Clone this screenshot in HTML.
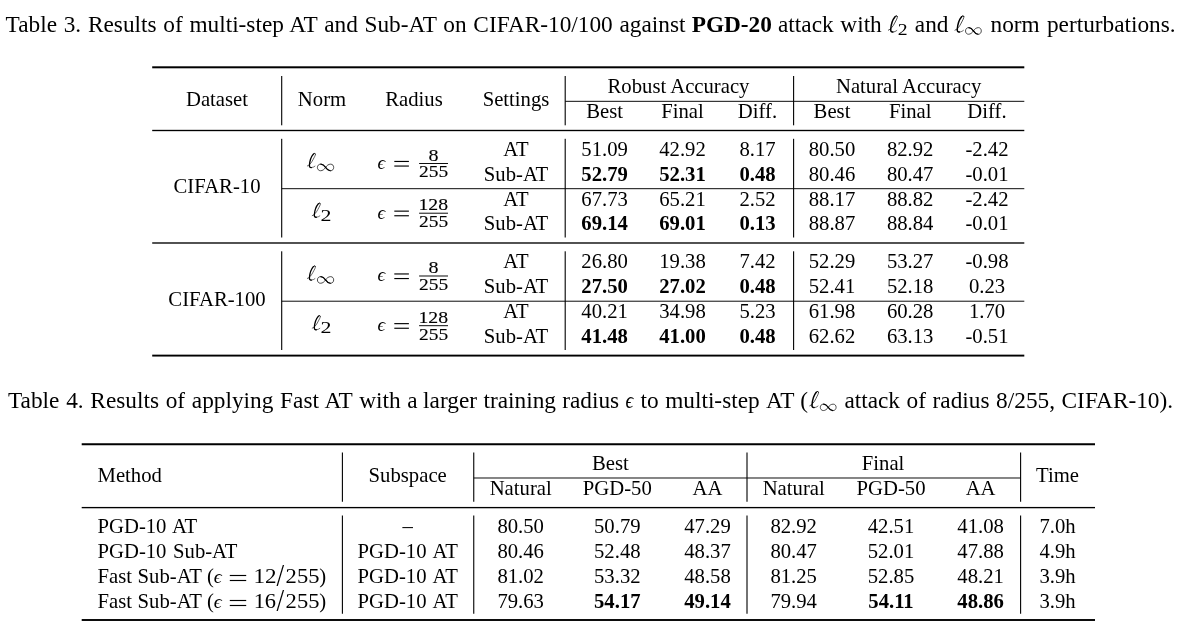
<!DOCTYPE html>
<html><head><meta charset="utf-8"><title>Tables</title>
<style>
html,body{margin:0;padding:0;background:#fff;}
body{width:1181px;height:629px;position:relative;overflow:hidden;font-family:"Liberation Serif",serif;color:#000;}
.t{position:absolute;white-space:nowrap;}
#pg{position:absolute;left:0;top:0;width:1181px;height:629px;will-change:transform;}
svg{position:absolute;left:0;top:0;}
</style></head><body><div id="pg">
<svg width="1181" height="629" viewBox="0 0 1181 629" fill="#000">
<g transform="translate(888.10,15.30) scale(0.04974,0.04928) translate(-160,-100)" fill="none" stroke="#000" stroke-linecap="round" stroke-linejoin="round"><path d="M166,403 C 215,385 258,325 292,258 C 322,198 352,150 346,126 C 341,106 320,106 300,128" stroke-width="14.0"/><path d="M300,128 C 258,178 218,300 212,385 C 209,425 226,440 255,439" stroke-width="30.0"/><path d="M346,126 C 341,106 318,104 298,130" stroke-width="16.0"/><path d="M212,385 C 209,425 226,441 255,439 C 290,437 315,424 336,407" stroke-width="13.0"/></g>
<g transform="translate(954.70,15.30) scale(0.04923,0.04928) translate(-160,-100)" fill="none" stroke="#000" stroke-linecap="round" stroke-linejoin="round"><path d="M166,403 C 215,385 258,325 292,258 C 322,198 352,150 346,126 C 341,106 320,106 300,128" stroke-width="14.0"/><path d="M300,128 C 258,178 218,300 212,385 C 209,425 226,440 255,439" stroke-width="30.0"/><path d="M346,126 C 341,106 318,104 298,130" stroke-width="16.0"/><path d="M212,385 C 209,425 226,441 255,439 C 290,437 315,424 336,407" stroke-width="13.0"/></g>
<g transform="translate(965.20,27.30) scale(0.04316,0.04424) translate(-385,-355)" fill="none" stroke="#000" stroke-linecap="round" stroke-linejoin="round"><path d="M575,437 C 545,392 505,363 462,363 C 418,363 392,398 392,437 C 392,478 420,512 462,512 C 510,512 545,482 575,437 C 605,393 640,363 690,363 C 735,363 758,398 758,437 C 758,478 730,512 690,512 C 640,512 605,482 575,437 Z" stroke-width="16.0"/><path d="M470,364 C 510,366 545,392 575,437 C 605,482 640,510 682,512" stroke-width="28.0"/></g>
<rect x="152.20" y="66.30" width="872.10" height="2.00"/>
<rect x="152.20" y="129.82" width="872.10" height="1.35"/>
<rect x="152.20" y="242.32" width="872.10" height="1.35"/>
<rect x="152.20" y="354.65" width="872.10" height="1.90"/>
<rect x="281.15" y="76.00" width="1.10" height="49.30"/>
<rect x="281.15" y="138.80" width="1.10" height="98.70"/>
<rect x="281.15" y="251.30" width="1.10" height="98.70"/>
<rect x="564.65" y="76.00" width="1.10" height="49.30"/>
<rect x="564.65" y="138.80" width="1.10" height="98.70"/>
<rect x="564.65" y="251.30" width="1.10" height="98.70"/>
<rect x="793.05" y="76.00" width="1.10" height="49.30"/>
<rect x="793.05" y="138.80" width="1.10" height="98.70"/>
<rect x="793.05" y="251.30" width="1.10" height="98.70"/>
<rect x="565.20" y="100.83" width="228.40" height="0.95"/>
<rect x="793.60" y="100.83" width="230.70" height="0.95"/>
<rect x="281.70" y="188.22" width="742.60" height="0.95"/>
<rect x="281.70" y="300.72" width="742.60" height="0.95"/>
<g transform="translate(307.10,152.90) scale(0.04462,0.04323) translate(-160,-100)" fill="none" stroke="#000" stroke-linecap="round" stroke-linejoin="round"><path d="M166,403 C 215,385 258,325 292,258 C 322,198 352,150 346,126 C 341,106 320,106 300,128" stroke-width="14.0"/><path d="M300,128 C 258,178 218,300 212,385 C 209,425 226,440 255,439" stroke-width="30.0"/><path d="M346,126 C 341,106 318,104 298,130" stroke-width="16.0"/><path d="M212,385 C 209,425 226,441 255,439 C 290,437 315,424 336,407" stroke-width="13.0"/></g>
<g transform="translate(317.10,163.80) scale(0.04447,0.04424) translate(-385,-355)" fill="none" stroke="#000" stroke-linecap="round" stroke-linejoin="round"><path d="M575,437 C 545,392 505,363 462,363 C 418,363 392,398 392,437 C 392,478 420,512 462,512 C 510,512 545,482 575,437 C 605,393 640,363 690,363 C 735,363 758,398 758,437 C 758,478 730,512 690,512 C 640,512 605,482 575,437 Z" stroke-width="16.0"/><path d="M470,364 C 510,366 545,392 575,437 C 605,482 640,510 682,512" stroke-width="28.0"/></g>
<rect x="394.30" y="160.88" width="14.60" height="1.15"/>
<rect x="394.30" y="165.48" width="14.60" height="1.15"/>
<rect x="419.10" y="163.03" width="28.90" height="0.95"/>
<g transform="translate(312.00,202.60) scale(0.04462,0.04323) translate(-160,-100)" fill="none" stroke="#000" stroke-linecap="round" stroke-linejoin="round"><path d="M166,403 C 215,385 258,325 292,258 C 322,198 352,150 346,126 C 341,106 320,106 300,128" stroke-width="14.0"/><path d="M300,128 C 258,178 218,300 212,385 C 209,425 226,440 255,439" stroke-width="30.0"/><path d="M346,126 C 341,106 318,104 298,130" stroke-width="16.0"/><path d="M212,385 C 209,425 226,441 255,439 C 290,437 315,424 336,407" stroke-width="13.0"/></g>
<rect x="394.30" y="210.57" width="14.60" height="1.15"/>
<rect x="394.30" y="215.18" width="14.60" height="1.15"/>
<rect x="419.10" y="212.72" width="28.90" height="0.95"/>
<g transform="translate(307.10,265.40) scale(0.04462,0.04323) translate(-160,-100)" fill="none" stroke="#000" stroke-linecap="round" stroke-linejoin="round"><path d="M166,403 C 215,385 258,325 292,258 C 322,198 352,150 346,126 C 341,106 320,106 300,128" stroke-width="14.0"/><path d="M300,128 C 258,178 218,300 212,385 C 209,425 226,440 255,439" stroke-width="30.0"/><path d="M346,126 C 341,106 318,104 298,130" stroke-width="16.0"/><path d="M212,385 C 209,425 226,441 255,439 C 290,437 315,424 336,407" stroke-width="13.0"/></g>
<g transform="translate(317.10,276.30) scale(0.04447,0.04424) translate(-385,-355)" fill="none" stroke="#000" stroke-linecap="round" stroke-linejoin="round"><path d="M575,437 C 545,392 505,363 462,363 C 418,363 392,398 392,437 C 392,478 420,512 462,512 C 510,512 545,482 575,437 C 605,393 640,363 690,363 C 735,363 758,398 758,437 C 758,478 730,512 690,512 C 640,512 605,482 575,437 Z" stroke-width="16.0"/><path d="M470,364 C 510,366 545,392 575,437 C 605,482 640,510 682,512" stroke-width="28.0"/></g>
<rect x="394.30" y="273.38" width="14.60" height="1.15"/>
<rect x="394.30" y="277.98" width="14.60" height="1.15"/>
<rect x="419.10" y="275.52" width="28.90" height="0.95"/>
<g transform="translate(312.00,315.10) scale(0.04462,0.04323) translate(-160,-100)" fill="none" stroke="#000" stroke-linecap="round" stroke-linejoin="round"><path d="M166,403 C 215,385 258,325 292,258 C 322,198 352,150 346,126 C 341,106 320,106 300,128" stroke-width="14.0"/><path d="M300,128 C 258,178 218,300 212,385 C 209,425 226,440 255,439" stroke-width="30.0"/><path d="M346,126 C 341,106 318,104 298,130" stroke-width="16.0"/><path d="M212,385 C 209,425 226,441 255,439 C 290,437 315,424 336,407" stroke-width="13.0"/></g>
<rect x="394.30" y="323.07" width="14.60" height="1.15"/>
<rect x="394.30" y="327.68" width="14.60" height="1.15"/>
<rect x="419.10" y="325.22" width="28.90" height="0.95"/>
<g transform="translate(809.50,390.90) scale(0.04821,0.04928) translate(-160,-100)" fill="none" stroke="#000" stroke-linecap="round" stroke-linejoin="round"><path d="M166,403 C 215,385 258,325 292,258 C 322,198 352,150 346,126 C 341,106 320,106 300,128" stroke-width="14.0"/><path d="M300,128 C 258,178 218,300 212,385 C 209,425 226,440 255,439" stroke-width="30.0"/><path d="M346,126 C 341,106 318,104 298,130" stroke-width="16.0"/><path d="M212,385 C 209,425 226,441 255,439 C 290,437 315,424 336,407" stroke-width="13.0"/></g>
<g transform="translate(820.00,403.80) scale(0.04316,0.04303) translate(-385,-355)" fill="none" stroke="#000" stroke-linecap="round" stroke-linejoin="round"><path d="M575,437 C 545,392 505,363 462,363 C 418,363 392,398 392,437 C 392,478 420,512 462,512 C 510,512 545,482 575,437 C 605,393 640,363 690,363 C 735,363 758,398 758,437 C 758,478 730,512 690,512 C 640,512 605,482 575,437 Z" stroke-width="16.0"/><path d="M470,364 C 510,366 545,392 575,437 C 605,482 640,510 682,512" stroke-width="28.0"/></g>
<rect x="81.70" y="443.25" width="1013.30" height="2.00"/>
<rect x="81.70" y="506.93" width="1013.30" height="1.35"/>
<rect x="81.70" y="619.05" width="1013.30" height="1.90"/>
<rect x="341.85" y="452.50" width="1.10" height="49.25"/>
<rect x="341.85" y="515.50" width="1.10" height="98.25"/>
<rect x="473.20" y="452.50" width="1.10" height="49.25"/>
<rect x="473.20" y="515.50" width="1.10" height="98.25"/>
<rect x="746.45" y="452.50" width="1.10" height="49.25"/>
<rect x="746.45" y="515.50" width="1.10" height="98.25"/>
<rect x="1020.05" y="452.50" width="1.10" height="49.25"/>
<rect x="1020.05" y="515.50" width="1.10" height="98.25"/>
<rect x="473.75" y="477.52" width="273.25" height="0.95"/>
<rect x="747.00" y="477.52" width="273.60" height="0.95"/>
<rect x="229.80" y="574.92" width="16.40" height="1.15"/>
<rect x="229.80" y="579.92" width="16.40" height="1.15"/>
<rect x="229.80" y="599.92" width="16.40" height="1.15"/>
<rect x="229.80" y="604.92" width="16.40" height="1.15"/>
</svg>
<span class="t" style="top:11.00px;font-size:23.3px;line-height:26px;left:5.60px;">Table</span>
<span class="t" style="top:11.00px;font-size:23.3px;line-height:26px;left:63.73px;">3.</span>
<span class="t" style="top:11.00px;font-size:23.3px;line-height:26px;left:87.95px;">Results</span>
<span class="t" style="top:11.00px;font-size:23.3px;line-height:26px;left:163.28px;">of</span>
<span class="t" style="top:11.00px;font-size:23.3px;line-height:26px;left:189.43px;">multi-step</span>
<span class="t" style="top:11.00px;font-size:23.3px;line-height:26px;left:289.37px;">AT</span>
<span class="t" style="top:11.00px;font-size:23.3px;line-height:26px;left:324.16px;">and</span>
<span class="t" style="top:11.00px;font-size:23.3px;line-height:26px;left:364.53px;">Sub-AT</span>
<span class="t" style="top:11.00px;font-size:23.3px;line-height:26px;left:443.33px;">on</span>
<span class="t" style="top:11.00px;font-size:23.3px;line-height:26px;left:473.36px;">CIFAR-10/100</span>
<span class="t" style="top:11.00px;font-size:23.3px;line-height:26px;left:619.46px;">against</span>
<span class="t" style="top:11.00px;font-size:23.3px;line-height:26px;left:691.70px;font-weight:bold;">PGD-20</span>
<span class="t" style="top:11.00px;font-size:23.3px;line-height:26px;left:778.00px;">attack</span>
<span class="t" style="top:11.00px;font-size:23.3px;line-height:26px;left:840.35px;">with</span>
<span class="t" style="top:11.00px;font-size:23.3px;line-height:26px;left:914.80px;">and</span>
<span class="t" style="top:11.00px;font-size:23.3px;line-height:26px;left:990.50px;">norm</span>
<span class="t" style="top:11.00px;font-size:23.3px;line-height:26px;left:1046.92px;">perturbations.</span>
<span class="t" style="top:387.00px;font-size:23.3px;line-height:26px;left:8.00px;">Table</span>
<span class="t" style="top:387.00px;font-size:23.3px;line-height:26px;left:66.13px;">4.</span>
<span class="t" style="top:387.00px;font-size:23.3px;line-height:26px;left:90.35px;">Results</span>
<span class="t" style="top:387.00px;font-size:23.3px;line-height:26px;left:165.68px;">of</span>
<span class="t" style="top:387.00px;font-size:23.3px;line-height:26px;left:191.83px;">applying</span>
<span class="t" style="top:387.00px;font-size:23.3px;line-height:26px;left:280.09px;">Fast</span>
<span class="t" style="top:387.00px;font-size:23.3px;line-height:26px;left:324.38px;">AT</span>
<span class="t" style="top:387.00px;font-size:23.3px;line-height:26px;left:359.18px;">with</span>
<span class="t" style="top:387.00px;font-size:23.3px;line-height:26px;left:407.32px;">a</span>
<span class="t" style="top:387.00px;font-size:23.3px;line-height:26px;left:423.10px;">larger</span>
<span class="t" style="top:387.00px;font-size:23.3px;line-height:26px;left:483.53px;">training</span>
<span class="t" style="top:387.00px;font-size:23.3px;line-height:26px;left:562.23px;">radius</span>
<span class="t" style="top:387.00px;font-size:23.3px;line-height:26px;left:640.50px;">to</span>
<span class="t" style="top:387.00px;font-size:23.3px;line-height:26px;left:665.20px;">multi-step</span>
<span class="t" style="top:387.00px;font-size:23.3px;line-height:26px;left:765.98px;">AT</span>
<span class="t" style="top:387.00px;font-size:23.3px;line-height:26px;left:800.33px;">(</span>
<span class="t" style="top:387.00px;font-size:23.3px;line-height:26px;left:844.40px;">attack</span>
<span class="t" style="top:387.00px;font-size:23.3px;line-height:26px;left:906.60px;">of</span>
<span class="t" style="top:387.00px;font-size:23.3px;line-height:26px;left:932.60px;">radius</span>
<span class="t" style="top:387.00px;font-size:23.3px;line-height:26px;left:996.12px;">8/255,</span>
<span class="t" style="top:387.00px;font-size:23.3px;line-height:26px;left:1061.59px;">CIFAR-10).</span>
<span class="t" style="left:897px;top:20px;font-size:16.16px;line-height:17px;transform-origin:0 0;transform:translate(0.63px,0.60px) scaleX(1.219);">2</span>
<span class="t" style="top:88.00px;font-size:20.7px;line-height:22px;left:217.00px;transform:translateX(-50%);">Dataset</span>
<span class="t" style="top:88.00px;font-size:20.7px;line-height:22px;left:322.00px;transform:translateX(-50%);">Norm</span>
<span class="t" style="top:88.00px;font-size:20.7px;line-height:22px;left:414.00px;transform:translateX(-50%);">Radius</span>
<span class="t" style="top:88.00px;font-size:20.7px;line-height:22px;left:516.00px;transform:translateX(-50%);">Settings</span>
<span class="t" style="top:75.00px;font-size:20.7px;line-height:22px;left:678.50px;transform:translateX(-50%);">Robust Accuracy</span>
<span class="t" style="top:75.00px;font-size:20.7px;line-height:22px;left:908.60px;transform:translateX(-50%);">Natural Accuracy</span>
<span class="t" style="top:100.00px;font-size:20.7px;line-height:22px;left:604.60px;transform:translateX(-50%);">Best</span>
<span class="t" style="top:100.00px;font-size:20.7px;line-height:22px;left:682.50px;transform:translateX(-50%);">Final</span>
<span class="t" style="top:100.00px;font-size:20.7px;line-height:22px;left:757.50px;transform:translateX(-50%);">Diff.</span>
<span class="t" style="top:100.00px;font-size:20.7px;line-height:22px;left:832.00px;transform:translateX(-50%);">Best</span>
<span class="t" style="top:100.00px;font-size:20.7px;line-height:22px;left:910.20px;transform:translateX(-50%);">Final</span>
<span class="t" style="top:100.00px;font-size:20.7px;line-height:22px;left:987.00px;transform:translateX(-50%);">Diff.</span>
<span class="t" style="top:138.00px;font-size:20.7px;line-height:22px;left:516.00px;transform:translateX(-50%);">AT</span>
<span class="t" style="top:138.00px;font-size:20.7px;line-height:22px;left:604.60px;transform:translateX(-50%);">51.09</span>
<span class="t" style="top:138.00px;font-size:20.7px;line-height:22px;left:682.50px;transform:translateX(-50%);">42.92</span>
<span class="t" style="top:138.00px;font-size:20.7px;line-height:22px;left:757.50px;transform:translateX(-50%);">8.17</span>
<span class="t" style="top:138.00px;font-size:20.7px;line-height:22px;left:832.00px;transform:translateX(-50%);">80.50</span>
<span class="t" style="top:138.00px;font-size:20.7px;line-height:22px;left:910.20px;transform:translateX(-50%);">82.92</span>
<span class="t" style="top:138.00px;font-size:20.7px;line-height:22px;left:987.00px;transform:translateX(-50%);">-2.42</span>
<span class="t" style="top:163.00px;font-size:20.7px;line-height:22px;left:516.00px;transform:translateX(-50%);">Sub-AT</span>
<span class="t" style="top:163.00px;font-size:20.7px;line-height:22px;left:604.60px;transform:translateX(-50%);font-weight:bold;">52.79</span>
<span class="t" style="top:163.00px;font-size:20.7px;line-height:22px;left:682.50px;transform:translateX(-50%);font-weight:bold;">52.31</span>
<span class="t" style="top:163.00px;font-size:20.7px;line-height:22px;left:757.50px;transform:translateX(-50%);font-weight:bold;">0.48</span>
<span class="t" style="top:163.00px;font-size:20.7px;line-height:22px;left:832.00px;transform:translateX(-50%);">80.46</span>
<span class="t" style="top:163.00px;font-size:20.7px;line-height:22px;left:910.20px;transform:translateX(-50%);">80.47</span>
<span class="t" style="top:163.00px;font-size:20.7px;line-height:22px;left:987.00px;transform:translateX(-50%);">-0.01</span>
<span class="t" style="top:188.00px;font-size:20.7px;line-height:22px;left:516.00px;transform:translateX(-50%);">AT</span>
<span class="t" style="top:188.00px;font-size:20.7px;line-height:22px;left:604.60px;transform:translateX(-50%);">67.73</span>
<span class="t" style="top:188.00px;font-size:20.7px;line-height:22px;left:682.50px;transform:translateX(-50%);">65.21</span>
<span class="t" style="top:188.00px;font-size:20.7px;line-height:22px;left:757.50px;transform:translateX(-50%);">2.52</span>
<span class="t" style="top:188.00px;font-size:20.7px;line-height:22px;left:832.00px;transform:translateX(-50%);">88.17</span>
<span class="t" style="top:188.00px;font-size:20.7px;line-height:22px;left:910.20px;transform:translateX(-50%);">88.82</span>
<span class="t" style="top:188.00px;font-size:20.7px;line-height:22px;left:987.00px;transform:translateX(-50%);">-2.42</span>
<span class="t" style="top:212.00px;font-size:20.7px;line-height:22px;left:516.00px;transform:translateX(-50%);">Sub-AT</span>
<span class="t" style="top:212.00px;font-size:20.7px;line-height:22px;left:604.60px;transform:translateX(-50%);font-weight:bold;">69.14</span>
<span class="t" style="top:212.00px;font-size:20.7px;line-height:22px;left:682.50px;transform:translateX(-50%);font-weight:bold;">69.01</span>
<span class="t" style="top:212.00px;font-size:20.7px;line-height:22px;left:757.50px;transform:translateX(-50%);font-weight:bold;">0.13</span>
<span class="t" style="top:212.00px;font-size:20.7px;line-height:22px;left:832.00px;transform:translateX(-50%);">88.87</span>
<span class="t" style="top:212.00px;font-size:20.7px;line-height:22px;left:910.20px;transform:translateX(-50%);">88.84</span>
<span class="t" style="top:212.00px;font-size:20.7px;line-height:22px;left:987.00px;transform:translateX(-50%);">-0.01</span>
<span class="t" style="top:250.00px;font-size:20.7px;line-height:22px;left:516.00px;transform:translateX(-50%);">AT</span>
<span class="t" style="top:250.00px;font-size:20.7px;line-height:22px;left:604.60px;transform:translateX(-50%);">26.80</span>
<span class="t" style="top:250.00px;font-size:20.7px;line-height:22px;left:682.50px;transform:translateX(-50%);">19.38</span>
<span class="t" style="top:250.00px;font-size:20.7px;line-height:22px;left:757.50px;transform:translateX(-50%);">7.42</span>
<span class="t" style="top:250.00px;font-size:20.7px;line-height:22px;left:832.00px;transform:translateX(-50%);">52.29</span>
<span class="t" style="top:250.00px;font-size:20.7px;line-height:22px;left:910.20px;transform:translateX(-50%);">53.27</span>
<span class="t" style="top:250.00px;font-size:20.7px;line-height:22px;left:987.00px;transform:translateX(-50%);">-0.98</span>
<span class="t" style="top:275.00px;font-size:20.7px;line-height:22px;left:516.00px;transform:translateX(-50%);">Sub-AT</span>
<span class="t" style="top:275.00px;font-size:20.7px;line-height:22px;left:604.60px;transform:translateX(-50%);font-weight:bold;">27.50</span>
<span class="t" style="top:275.00px;font-size:20.7px;line-height:22px;left:682.50px;transform:translateX(-50%);font-weight:bold;">27.02</span>
<span class="t" style="top:275.00px;font-size:20.7px;line-height:22px;left:757.50px;transform:translateX(-50%);font-weight:bold;">0.48</span>
<span class="t" style="top:275.00px;font-size:20.7px;line-height:22px;left:832.00px;transform:translateX(-50%);">52.41</span>
<span class="t" style="top:275.00px;font-size:20.7px;line-height:22px;left:910.20px;transform:translateX(-50%);">52.18</span>
<span class="t" style="top:275.00px;font-size:20.7px;line-height:22px;left:987.00px;transform:translateX(-50%);">0.23</span>
<span class="t" style="top:300.00px;font-size:20.7px;line-height:22px;left:516.00px;transform:translateX(-50%);">AT</span>
<span class="t" style="top:300.00px;font-size:20.7px;line-height:22px;left:604.60px;transform:translateX(-50%);">40.21</span>
<span class="t" style="top:300.00px;font-size:20.7px;line-height:22px;left:682.50px;transform:translateX(-50%);">34.98</span>
<span class="t" style="top:300.00px;font-size:20.7px;line-height:22px;left:757.50px;transform:translateX(-50%);">5.23</span>
<span class="t" style="top:300.00px;font-size:20.7px;line-height:22px;left:832.00px;transform:translateX(-50%);">61.98</span>
<span class="t" style="top:300.00px;font-size:20.7px;line-height:22px;left:910.20px;transform:translateX(-50%);">60.28</span>
<span class="t" style="top:300.00px;font-size:20.7px;line-height:22px;left:987.00px;transform:translateX(-50%);">1.70</span>
<span class="t" style="top:325.00px;font-size:20.7px;line-height:22px;left:516.00px;transform:translateX(-50%);">Sub-AT</span>
<span class="t" style="top:325.00px;font-size:20.7px;line-height:22px;left:604.60px;transform:translateX(-50%);font-weight:bold;">41.48</span>
<span class="t" style="top:325.00px;font-size:20.7px;line-height:22px;left:682.50px;transform:translateX(-50%);font-weight:bold;">41.00</span>
<span class="t" style="top:325.00px;font-size:20.7px;line-height:22px;left:757.50px;transform:translateX(-50%);font-weight:bold;">0.48</span>
<span class="t" style="top:325.00px;font-size:20.7px;line-height:22px;left:832.00px;transform:translateX(-50%);">62.62</span>
<span class="t" style="top:325.00px;font-size:20.7px;line-height:22px;left:910.20px;transform:translateX(-50%);">63.13</span>
<span class="t" style="top:325.00px;font-size:20.7px;line-height:22px;left:987.00px;transform:translateX(-50%);">-0.51</span>
<span class="t" style="top:175.00px;font-size:20.7px;line-height:22px;left:217.00px;transform:translateX(-50%);">CIFAR-10</span>
<span class="t" style="top:288.00px;font-size:20.7px;line-height:22px;left:217.00px;transform:translateX(-50%);">CIFAR-100</span>
<span class="t" style="left:377px;top:150px;font-size:19.75px;line-height:22px;transform-origin:0 0;transform:translate(0.53px,0.91px) scaleX(0.962);font-style:italic;">ϵ</span>
<span class="t" style="left:428px;top:146px;font-size:16.01px;line-height:17px;transform-origin:0 0;transform:translate(0.54px,0.60px) scaleX(1.253);-webkit-text-stroke:0.12px #000;">8</span>
<span class="t" style="left:419px;top:163px;font-size:15.86px;line-height:17px;transform-origin:0 0;transform:translate(0.05px,0.30px) scaleX(1.224);-webkit-text-stroke:0.12px #000;">255</span>
<span class="t" style="left:320px;top:205px;font-size:16.31px;line-height:19px;transform-origin:0 0;transform:translate(0.44px,0.90px) scaleX(1.346);">2</span>
<span class="t" style="left:377px;top:200px;font-size:19.75px;line-height:22px;transform-origin:0 0;transform:translate(0.53px,0.61px) scaleX(0.962);font-style:italic;">ϵ</span>
<span class="t" style="left:418px;top:196px;font-size:15.71px;line-height:17px;transform-origin:0 0;transform:translate(0.46px,0.10px) scaleX(1.260);-webkit-text-stroke:0.12px #000;">128</span>
<span class="t" style="left:419px;top:213px;font-size:15.86px;line-height:17px;transform-origin:0 0;transform:translate(0.05px,0.00px) scaleX(1.224);-webkit-text-stroke:0.12px #000;">255</span>
<span class="t" style="left:377px;top:263px;font-size:19.75px;line-height:22px;transform-origin:0 0;transform:translate(0.53px,0.41px) scaleX(0.962);font-style:italic;">ϵ</span>
<span class="t" style="left:428px;top:259px;font-size:16.01px;line-height:17px;transform-origin:0 0;transform:translate(0.54px,0.10px) scaleX(1.253);-webkit-text-stroke:0.12px #000;">8</span>
<span class="t" style="left:419px;top:275px;font-size:15.86px;line-height:17px;transform-origin:0 0;transform:translate(0.05px,0.80px) scaleX(1.224);-webkit-text-stroke:0.12px #000;">255</span>
<span class="t" style="left:320px;top:318px;font-size:16.31px;line-height:19px;transform-origin:0 0;transform:translate(0.44px,0.40px) scaleX(1.346);">2</span>
<span class="t" style="left:377px;top:313px;font-size:19.75px;line-height:22px;transform-origin:0 0;transform:translate(0.53px,0.11px) scaleX(0.962);font-style:italic;">ϵ</span>
<span class="t" style="left:418px;top:308px;font-size:15.71px;line-height:17px;transform-origin:0 0;transform:translate(0.46px,0.60px) scaleX(1.260);-webkit-text-stroke:0.12px #000;">128</span>
<span class="t" style="left:419px;top:325px;font-size:15.86px;line-height:17px;transform-origin:0 0;transform:translate(0.05px,0.50px) scaleX(1.224);-webkit-text-stroke:0.12px #000;">255</span>
<span class="t" style="left:625px;top:387px;font-size:22.46px;line-height:25px;transform-origin:0 0;transform:translate(0.43px,0.88px) scaleX(0.857);font-style:italic;">ϵ</span>
<span class="t" style="top:464.00px;font-size:20.7px;line-height:22px;left:97.50px;">Method</span>
<span class="t" style="top:464.00px;font-size:20.7px;line-height:22px;left:407.70px;transform:translateX(-50%);">Subspace</span>
<span class="t" style="top:452.00px;font-size:20.7px;line-height:22px;left:610.40px;transform:translateX(-50%);">Best</span>
<span class="t" style="top:452.00px;font-size:20.7px;line-height:22px;left:883.10px;transform:translateX(-50%);">Final</span>
<span class="t" style="top:464.00px;font-size:20.7px;line-height:22px;left:1057.50px;transform:translateX(-50%);">Time</span>
<span class="t" style="top:477.00px;font-size:20.7px;line-height:22px;left:520.70px;transform:translateX(-50%);">Natural</span>
<span class="t" style="top:477.00px;font-size:20.7px;line-height:22px;left:617.30px;transform:translateX(-50%);">PGD-50</span>
<span class="t" style="top:477.00px;font-size:20.7px;line-height:22px;left:707.50px;transform:translateX(-50%);">AA</span>
<span class="t" style="top:477.00px;font-size:20.7px;line-height:22px;left:793.70px;transform:translateX(-50%);">Natural</span>
<span class="t" style="top:477.00px;font-size:20.7px;line-height:22px;left:891.00px;transform:translateX(-50%);">PGD-50</span>
<span class="t" style="top:477.00px;font-size:20.7px;line-height:22px;left:980.60px;transform:translateX(-50%);">AA</span>
<span class="t" style="top:515.00px;font-size:20.7px;line-height:22px;left:97.50px;word-spacing:1.4px;">PGD-10 AT</span>
<span class="t" style="top:515.00px;font-size:20.7px;line-height:22px;left:407.70px;transform:translateX(-50%);word-spacing:2px;">–</span>
<span class="t" style="top:515.00px;font-size:20.7px;line-height:22px;left:520.70px;transform:translateX(-50%);">80.50</span>
<span class="t" style="top:515.00px;font-size:20.7px;line-height:22px;left:617.30px;transform:translateX(-50%);">50.79</span>
<span class="t" style="top:515.00px;font-size:20.7px;line-height:22px;left:707.50px;transform:translateX(-50%);">47.29</span>
<span class="t" style="top:515.00px;font-size:20.7px;line-height:22px;left:793.70px;transform:translateX(-50%);">82.92</span>
<span class="t" style="top:515.00px;font-size:20.7px;line-height:22px;left:891.00px;transform:translateX(-50%);">42.51</span>
<span class="t" style="top:515.00px;font-size:20.7px;line-height:22px;left:980.60px;transform:translateX(-50%);">41.08</span>
<span class="t" style="top:515.00px;font-size:20.7px;line-height:22px;left:1057.50px;transform:translateX(-50%);">7.0h</span>
<span class="t" style="top:540.00px;font-size:20.7px;line-height:22px;left:97.50px;word-spacing:1.4px;">PGD-10 Sub-AT</span>
<span class="t" style="top:540.00px;font-size:20.7px;line-height:22px;left:407.70px;transform:translateX(-50%);word-spacing:2px;">PGD-10 AT</span>
<span class="t" style="top:540.00px;font-size:20.7px;line-height:22px;left:520.70px;transform:translateX(-50%);">80.46</span>
<span class="t" style="top:540.00px;font-size:20.7px;line-height:22px;left:617.30px;transform:translateX(-50%);">52.48</span>
<span class="t" style="top:540.00px;font-size:20.7px;line-height:22px;left:707.50px;transform:translateX(-50%);">48.37</span>
<span class="t" style="top:540.00px;font-size:20.7px;line-height:22px;left:793.70px;transform:translateX(-50%);">80.47</span>
<span class="t" style="top:540.00px;font-size:20.7px;line-height:22px;left:891.00px;transform:translateX(-50%);">52.01</span>
<span class="t" style="top:540.00px;font-size:20.7px;line-height:22px;left:980.60px;transform:translateX(-50%);">47.88</span>
<span class="t" style="top:540.00px;font-size:20.7px;line-height:22px;left:1057.50px;transform:translateX(-50%);">4.9h</span>
<span class="t" style="top:565.00px;font-size:20.7px;line-height:22px;left:97.50px;word-spacing:0.4px;">Fast Sub-AT (</span>
<span class="t" style="top:565.00px;font-size:20.7px;line-height:22px;left:407.70px;transform:translateX(-50%);word-spacing:2px;">PGD-10 AT</span>
<span class="t" style="top:565.00px;font-size:20.7px;line-height:22px;left:520.70px;transform:translateX(-50%);">81.02</span>
<span class="t" style="top:565.00px;font-size:20.7px;line-height:22px;left:617.30px;transform:translateX(-50%);">53.32</span>
<span class="t" style="top:565.00px;font-size:20.7px;line-height:22px;left:707.50px;transform:translateX(-50%);">48.58</span>
<span class="t" style="top:565.00px;font-size:20.7px;line-height:22px;left:793.70px;transform:translateX(-50%);">81.25</span>
<span class="t" style="top:565.00px;font-size:20.7px;line-height:22px;left:891.00px;transform:translateX(-50%);">52.85</span>
<span class="t" style="top:565.00px;font-size:20.7px;line-height:22px;left:980.60px;transform:translateX(-50%);">48.21</span>
<span class="t" style="top:565.00px;font-size:20.7px;line-height:22px;left:1057.50px;transform:translateX(-50%);">3.9h</span>
<span class="t" style="left:213px;top:565px;font-size:19.75px;line-height:22px;transform-origin:0 0;transform:translate(0.71px,0.11px) scaleX(0.999);font-style:italic;">ϵ</span>
<span class="t" style="left:253px;top:564px;font-size:21.14px;line-height:24px;transform-origin:0 0;transform:translate(0.57px,0.00px) scaleX(1.093);">12</span>
<span class="t" style="left:276px;top:558px;font-size:31.84px;line-height:35px;transform-origin:0 0;transform:translate(0.40px,0.49px) scaleX(0.859);">/</span>
<span class="t" style="left:285px;top:564px;font-size:21.14px;line-height:24px;transform-origin:0 0;transform:translate(0.61px,0.00px) scaleX(1.068);">255</span>
<span class="t" style="top:565.00px;font-size:20.7px;line-height:22px;left:319.20px;">)</span>
<span class="t" style="top:590.00px;font-size:20.7px;line-height:22px;left:97.50px;word-spacing:0.4px;">Fast Sub-AT (</span>
<span class="t" style="top:590.00px;font-size:20.7px;line-height:22px;left:407.70px;transform:translateX(-50%);word-spacing:2px;">PGD-10 AT</span>
<span class="t" style="top:590.00px;font-size:20.7px;line-height:22px;left:520.70px;transform:translateX(-50%);">79.63</span>
<span class="t" style="top:590.00px;font-size:20.7px;line-height:22px;left:617.30px;transform:translateX(-50%);font-weight:bold;">54.17</span>
<span class="t" style="top:590.00px;font-size:20.7px;line-height:22px;left:707.50px;transform:translateX(-50%);font-weight:bold;">49.14</span>
<span class="t" style="top:590.00px;font-size:20.7px;line-height:22px;left:793.70px;transform:translateX(-50%);">79.94</span>
<span class="t" style="top:590.00px;font-size:20.7px;line-height:22px;left:891.00px;transform:translateX(-50%);font-weight:bold;">54.11</span>
<span class="t" style="top:590.00px;font-size:20.7px;line-height:22px;left:980.60px;transform:translateX(-50%);font-weight:bold;">48.86</span>
<span class="t" style="top:590.00px;font-size:20.7px;line-height:22px;left:1057.50px;transform:translateX(-50%);">3.9h</span>
<span class="t" style="left:213px;top:590px;font-size:19.75px;line-height:22px;transform-origin:0 0;transform:translate(0.71px,0.11px) scaleX(0.999);font-style:italic;">ϵ</span>
<span class="t" style="left:253px;top:589px;font-size:21.14px;line-height:24px;transform-origin:0 0;transform:translate(0.63px,0.00px) scaleX(1.061);">16</span>
<span class="t" style="left:276px;top:583px;font-size:31.84px;line-height:35px;transform-origin:0 0;transform:translate(0.40px,0.49px) scaleX(0.859);">/</span>
<span class="t" style="left:285px;top:589px;font-size:21.14px;line-height:24px;transform-origin:0 0;transform:translate(0.61px,0.00px) scaleX(1.068);">255</span>
<span class="t" style="top:590.00px;font-size:20.7px;line-height:22px;left:319.20px;">)</span>
</div></body></html>
